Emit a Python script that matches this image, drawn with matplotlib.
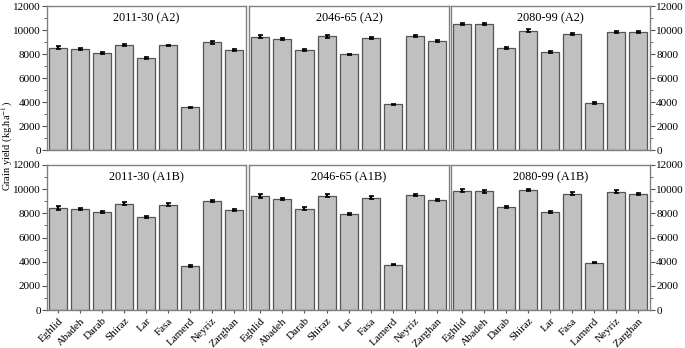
import matplotlib
matplotlib.use("Agg")
import matplotlib.pyplot as plt
from matplotlib.ticker import MultipleLocator

plt.rcParams['font.family'] = ['Liberation Serif', 'DejaVu Serif']
plt.rcParams['mathtext.fontset'] = 'stix'

# station names on the x axis
stations = ["Eghlid", "Abadeh", "Darab", "Shiraz", "Lar", "Fasa",
            "Lamerd", "Neyriz", "Zarghan"]

# grain yield (kg/ha)
y_2011_a2 = [8530, 8450, 8060, 8740, 7680, 8710, 3560, 8960, 8320]
y_2046_a2 = [9450, 9270, 8360, 9460, 7960, 9310, 3800, 9530, 9100]
y_2080_a2 = [10520, 10500, 8520, 9950, 8180, 9660, 3900, 9830, 9850]
y_2011_a1b = [8460, 8390, 8120, 8810, 7720, 8720, 3630, 9010, 8290]
y_2046_a1b = [9410, 9190, 8390, 9460, 7930, 9290, 3760, 9530, 9070]
y_2080_a1b = [9870, 9820, 8560, 9930, 8110, 9640, 3920, 9800, 9590]

# standard errors (small)
err_2011_a2 = [130, 90, 90, 90, 70, 80, 60, 100, 80]
err_2046_a2 = [150, 90, 90, 120, 70, 100, 60, 90, 80]
err_2080_a2 = [100, 90, 90, 110, 80, 90, 60, 100, 100]
err_2011_a1b = [150, 90, 80, 130, 70, 100, 60, 90, 80]
err_2046_a1b = [150, 90, 100, 120, 70, 110, 60, 90, 80]
err_2080_a1b = [130, 100, 80, 110, 80, 100, 70, 130, 80]

panels = [
    ("2011-30 (A2)", y_2011_a2, err_2011_a2),
    ("2046-65 (A2)", y_2046_a2, err_2046_a2),
    ("2080-99 (A2)", y_2080_a2, err_2080_a2),
    ("2011-30 (A1B)", y_2011_a1b, err_2011_a1b),
    ("2046-65 (A1B)", y_2046_a1b, err_2046_a1b),
    ("2080-99 (A1B)", y_2080_a1b, err_2080_a1b),
]

W, H = 685, 348
fig = plt.figure(figsize=(W / 100, H / 100), dpi=100)

col_px = [(47, 246), (249, 449), (451, 650)]
row_px = [(6, 150), (165, 310)]

x = list(range(len(stations)))
for i, (title, vals, errs) in enumerate(panels):
    r, c = divmod(i, 3)
    x0, x1 = col_px[c]
    t, b = row_px[r]
    ax = fig.add_axes([x0 / W, 1 - b / H, (x1 - x0) / W, (b - t) / H])
    ax.bar(x, vals, width=0.82, color="#c0c0c0", edgecolor="#555555",
           linewidth=0.9)
    ax.errorbar(x, vals, yerr=errs, fmt="none", ecolor="black",
                elinewidth=1.6, capsize=1.8, capthick=1.2)
    ax.set_xlim(-0.51, 8.54)
    ax.set_ylim(0, 12000)
    ax.text(0.5, 0.955, title, transform=ax.transAxes, ha="center",
            va="top", fontsize=8.8)
    for s in ax.spines.values():
        s.set_color("#808080")
        s.set_linewidth(1.0)

    ax.yaxis.set_major_locator(MultipleLocator(2000))
    ax.yaxis.set_minor_locator(MultipleLocator(1000))
    if c == 0:
        ax.tick_params(axis="y", which="both", direction="out",
                       labelsize=8, pad=1, color="#555555")
        ax.tick_params(axis="y", which="major", length=3.5)
        ax.tick_params(axis="y", which="minor", length=2)
    elif c == 2:
        ax.yaxis.tick_right()
        ax.yaxis.set_label_position("right")
        ax.tick_params(axis="y", which="both", direction="out",
                       labelsize=8, pad=1, color="#555555")
        ax.tick_params(axis="y", which="major", length=3.5)
        ax.tick_params(axis="y", which="minor", length=2)
    else:
        ax.tick_params(axis="y", which="both", left=False, right=False,
                       labelleft=False, labelright=False)

    ax.set_xticks(x)
    if r == 1:
        ax.set_xticklabels(stations, rotation=45, ha="right",
                           rotation_mode="anchor", fontsize=8)
        ax.tick_params(axis="x", direction="out", length=2.5, pad=2,
                       color="#555555")
    else:
        ax.set_xticklabels([])
        ax.tick_params(axis="x", length=0)

fig.text(7 / W, 1 - 146 / H, "Grain yield (kg.ha$^{-1}$)", rotation=90,
         ha="center", va="center", fontsize=7.5)

fig.savefig("out.png", dpi=100)
